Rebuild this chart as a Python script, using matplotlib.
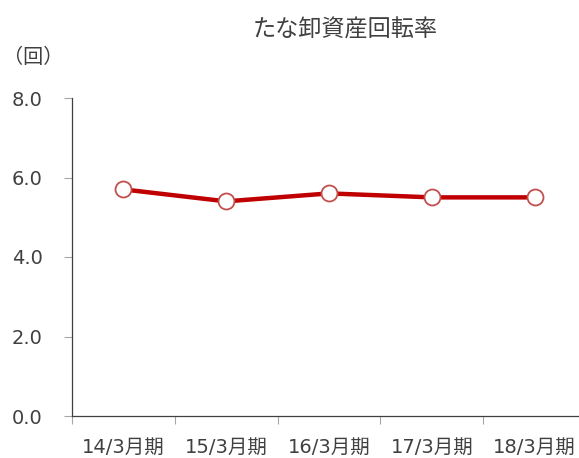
import matplotlib
matplotlib.use("Agg")
import matplotlib.pyplot as plt

plt.rcParams['font.family'] = ['DejaVu Sans', 'Noto Sans CJK JP']

categories = ["14/3月期", "15/3月期", "16/3月期", "17/3月期", "18/3月期"]
values = [5.7, 5.4, 5.6, 5.5, 5.5]
yticks = [0.0, 2.0, 4.0, 6.0, 8.0]
title = "たな卸資産回転率"
unit = "（回）"

W, H = 579, 458
fig = plt.figure(figsize=(W / 100, H / 100), dpi=100)
left, right, bottom, top = 72, 586, 416, 98
ax = fig.add_axes([left / W, 1 - bottom / H, (right - left) / W, (bottom - top) / H])

x = list(range(len(categories)))
ax.plot(x, values, color="#C00000", lw=3.2, zorder=2)
ax.plot(x, values, ls="none", marker="o", ms=11.5, mfc="white", mec="#C0504D", mew=1.3, zorder=3)

ax.set_xlim(-0.5, len(categories) - 0.5)
ax.set_ylim(0, 8)
ax.set_yticks(yticks)
ax.set_yticklabels([f"{v:.1f}" for v in yticks])
ax.set_xticks([i - 0.5 for i in range(len(categories) + 1)], minor=False)
ax.set_xticklabels([""] * (len(categories) + 1))
ax.set_xticks(x, minor=True)
ax.set_xticklabels(categories, minor=True)
ax.tick_params(axis="x", which="major", direction="out", length=6, color="#A6A6A6", width=0.8)
ax.tick_params(axis="x", which="minor", length=0, pad=15.5, labelsize=14, labelcolor="#404040")
ax.tick_params(axis="y", direction="out", length=6, color="#A6A6A6", width=0.8, pad=15, labelsize=14, labelcolor="#404040")

for s in ["top", "right"]:
    ax.spines[s].set_visible(False)
for s in ["left", "bottom"]:
    ax.spines[s].set_color("#404040")
    ax.spines[s].set_linewidth(0.9)

fig.text(345.5 / W, 1 - 30 / H, title, ha="center", va="center", fontsize=16.7, color="#404040")
fig.text(33 / W, 1 - 57 / H, unit, ha="center", va="center", fontsize=14.5, color="#404040")

fig.savefig("out.png", dpi=100)
